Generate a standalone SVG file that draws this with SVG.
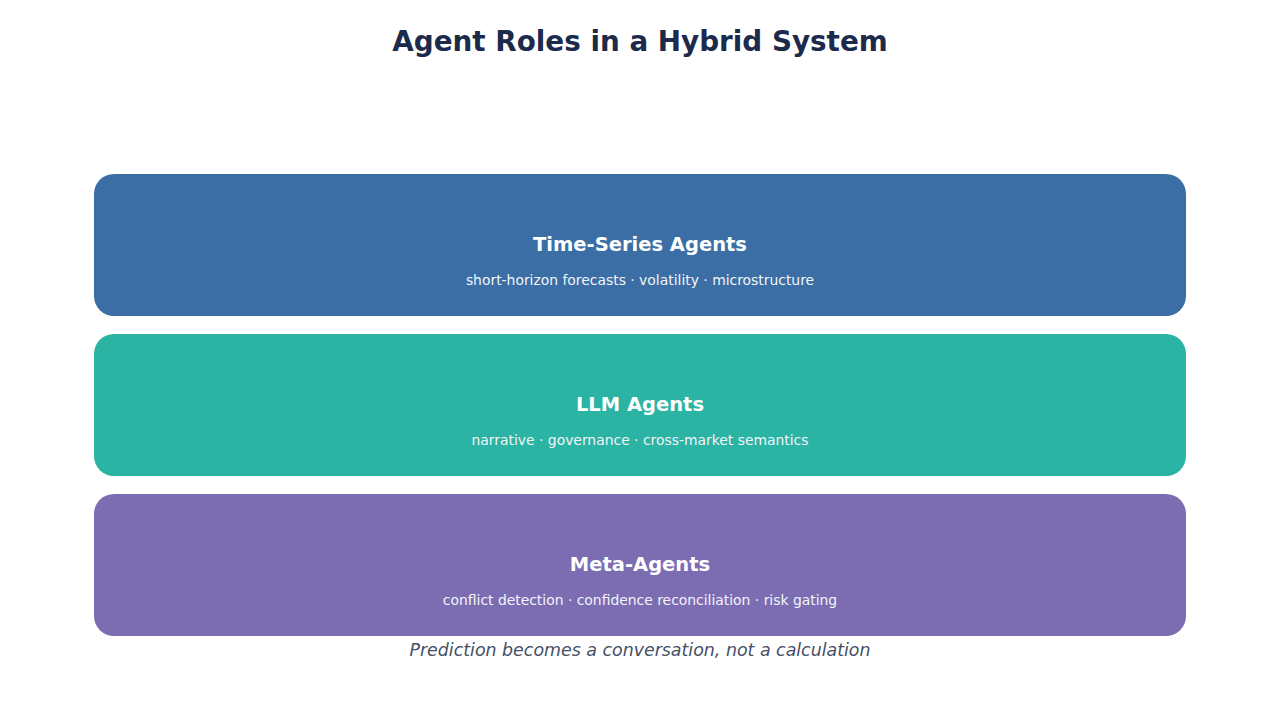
<svg xmlns="http://www.w3.org/2000/svg" width="1280" height="720" viewBox="0 0 1280 720">
<style>
text{font-family:"DejaVu Sans","Liberation Sans",sans-serif;text-anchor:middle}
.title{font-size:27.8px;font-weight:bold;fill:#1c2a4b}
.nt{font-size:19.5px;font-weight:bold;fill:#ffffff}
.ns{font-size:13.9px;fill:#f2f4f8}
.cap{font-size:17.4px;font-style:italic;fill:#454f66}
</style>
<rect width="1280" height="720" fill="#ffffff"/>
<text class="title" x="640" y="51">Agent Roles in a Hybrid System</text>
<g id="timeseries">
<rect x="94" y="174" width="1092" height="142" rx="20" fill="#3b6ea5"/>
<text class="nt" x="640" y="251">Time-Series Agents</text>
<text class="ns" x="640" y="285">short-horizon forecasts · volatility · microstructure</text>
</g>
<g id="llm">
<rect x="94" y="334" width="1092" height="142" rx="20" fill="#2bb3a3"/>
<text class="nt" x="640" y="411">LLM Agents</text>
<text class="ns" x="640" y="445">narrative · governance · cross-market semantics</text>
</g>
<g id="meta">
<rect x="94" y="494" width="1092" height="142" rx="20" fill="#7c6db3"/>
<text class="nt" x="640" y="571">Meta-Agents</text>
<text class="ns" x="640" y="605">conflict detection · confidence reconciliation · risk gating</text>
</g>
<g id="connectors"></g>
<text class="cap" x="640" y="656">Prediction becomes a conversation, not a calculation</text>
</svg>
